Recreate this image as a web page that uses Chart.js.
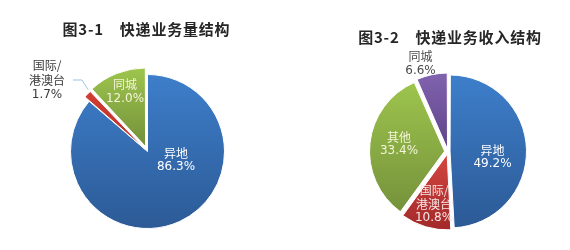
<!DOCTYPE html>
<html><head><meta charset="utf-8">
<script src="https://cdn.jsdelivr.net/npm/chart.js@4"></script>
<style>
html,body{margin:0;padding:0;background:#fff;}
#wrap{position:relative;width:570px;height:250px;overflow:hidden;background:#fff;}
.cv{position:absolute;top:0;}
.title{position:absolute;font-family:"Noto Sans CJK SC";font-weight:bold;font-size:15px;letter-spacing:0.8px;color:#262626;white-space:pre;transform:translate(-50%,-50%);line-height:1;}
</style></head><body>
<div id="wrap">
<canvas id="c1" class="cv" width="285" height="250" style="left:0"></canvas>
<canvas id="c2" class="cv" width="285" height="250" style="left:285px"></canvas>
<div class="title" id="t1" style="left:146.5px;top:28px"></div>
<div class="title" id="t2" style="left:450px;top:35.5px"></div>
</div>
<script>
// ---- data ----
const titles = ['图3-1　快递业务量结构', '图3-2　快递业务收入结构'];
const volumeCategories = ['异地', '国际/港澳台', '同城'];
const volumeValues = [86.3, 1.7, 12.0];
const revenueCategories = ['异地', '国际/港澳台', '其他', '同城'];
const revenueValues = [49.2, 10.8, 33.4, 6.6];

document.getElementById('t1').textContent = titles[0];
document.getElementById('t2').textContent = titles[1];

const CJK = '"Noto Sans CJK SC", sans-serif';
const NUM = '"DejaVu Sans", sans-serif';

function sliceGradient(tops, bottoms, radius) {
  return (ctx) => {
    const chart = ctx.chart, a = chart.chartArea;
    const i = ctx.dataIndex;
    if (!a) return bottoms[i];
    const data = chart.data.datasets[0].data;
    const total = data.reduce((s, v) => s + v, 0);
    let before = 0; for (let k = 0; k < i; k++) before += data[k];
    const s = -Math.PI / 2 + before / total * 2 * Math.PI;
    const e = s + data[i] / total * 2 * Math.PI;
    const cy = (a.top + a.bottom) / 2;
    const ys = [cy, cy + Math.sin(s) * radius, cy + Math.sin(e) * radius];
    const inRange = (ang) => { let t = ang; while (t < s) t += 2 * Math.PI; return t <= e; };
    if (inRange(-Math.PI / 2)) ys.push(cy - radius);
    if (inRange(Math.PI / 2)) ys.push(cy + radius);
    const y0 = Math.min(...ys), y1 = Math.max(...ys);
    const g = chart.ctx.createLinearGradient(0, y0, 0, y1 + 0.01);
    g.addColorStop(0, tops[i]); g.addColorStop(1, bottoms[i]);
    return g;
  };
}

const labelPlugin = {
  id: 'sliceLabels',
  afterDatasetsDraw(chart, args, opts) {
    const ctx = chart.ctx;
    const meta = chart.getDatasetMeta(0);
    const cats = chart.data.labels, vals = chart.data.datasets[0].data;
    meta.data.forEach((arc, i) => {
      const p = opts.places[i];
      const cx = arc.x + p.dx, cy = arc.y + p.dy;
      const name = cats[i];
      const nameLines = name.includes('/') ? [name.slice(0, name.indexOf('/') + 1), name.slice(name.indexOf('/') + 1)] : [name];
      const lines = nameLines.map(t => ({t, f: '12px ' + CJK})).concat([{t: vals[i].toFixed(1) + '%', f: '12px ' + NUM}]);
      const lh = p.lh || 14;
      const y0 = cy - (lines.length - 1) * lh / 2;
      ctx.save();
      ctx.textAlign = 'center'; ctx.textBaseline = 'middle';
      ctx.fillStyle = p.color;
      lines.forEach((l, k) => { ctx.font = l.f; ctx.fillText(l.t, cx, y0 + k * lh); });
      if (p.leader) {
        ctx.strokeStyle = '#9dc3e6'; ctx.lineWidth = 1;
        ctx.beginPath();
        p.leader.forEach((pt, k) => { const X = arc.x + pt[0], Y = arc.y + pt[1]; if (k) ctx.lineTo(X, Y); else ctx.moveTo(X, Y); });
        ctx.stroke();
      }
      ctx.restore();
    });
  }
};

const R1 = 77, R2 = 74.5;
new Chart(document.getElementById('c1'), {
  type: 'pie',
  data: {
    labels: volumeCategories,
    datasets: [{
      data: volumeValues,
      backgroundColor: sliceGradient(['#3d7eca', '#d23c33', '#9dc44d'], ['#2c5a96', '#b83029', '#73903a'], R1),
      borderColor: '#ffffff', borderWidth: 1,
      offset: [0, 12.7, 21]
    }]
  },
  options: {
    responsive: false, animation: false, radius: R1,
    layout: {padding: {left: 10, top: 53, right: 0, bottom: 0}},
    plugins: {
      legend: {display: false}, tooltip: {enabled: false}, title: {display: false},
      sliceLabels: {places: [
        {dx: 28.5, dy: 8.5, color: '#ffffff'},
        {dx: -100.5, dy: -71.5, lh: 14.8, color: '#3a3a3a', leader: [[-74.5, -71.5], [-65.5, -71.5], [-59.5, -62]]},
        {dx: -22.5, dy: -60, color: '#f4f4d8'}
      ]}
    }
  },
  plugins: [labelPlugin]
});

new Chart(document.getElementById('c2'), {
  type: 'pie',
  data: {
    labels: revenueCategories,
    datasets: [{
      data: revenueValues,
      backgroundColor: sliceGradient(['#3d7eca', '#d4463f', '#9dc44d', '#8062ae'], ['#2c5a96', '#a3292a', '#75923b', '#5f4488'], R2),
      borderColor: '#ffffff', borderWidth: 1,
      offset: [8.2, 11.7, 14, 10]
    }]
  },
  options: {
    responsive: false, animation: false, radius: R2,
    layout: {padding: {left: 41, top: 53, right: 0, bottom: 0}},
    plugins: {
      legend: {display: false}, tooltip: {enabled: false}, title: {display: false},
      sliceLabels: {places: [
        {dx: 44.5, dy: 5.5, color: '#ffffff'},
        {dx: -14, dy: 52.5, color: '#f8e6e6'},
        {dx: -49, dy: -7.5, color: '#f4f4d8'},
        {dx: -27.5, dy: -88, color: '#4a4a4a'}
      ]}
    }
  },
  plugins: [labelPlugin]
});
</script>
</body></html>
